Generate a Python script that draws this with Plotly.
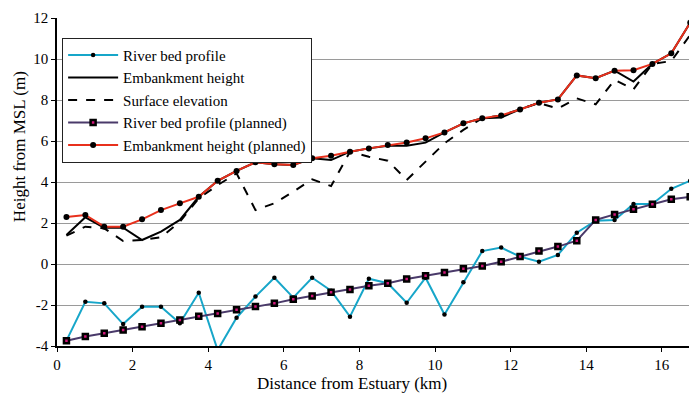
import plotly.graph_objects as go

distance_km = [0.25, 0.75, 1.25, 1.75, 2.25, 2.75, 3.25, 3.75, 4.25, 4.75, 5.25, 5.75,
               6.25, 6.75, 7.25, 7.75, 8.25, 8.75, 9.25, 9.75, 10.25, 10.75, 11.25, 11.75,
               12.25, 12.75, 13.25, 13.75, 14.25, 14.75, 15.25, 15.75, 16.25, 16.75]

river_bed = [-3.74, -1.84, -1.92, -2.93, -2.08, -2.08, -2.89, -1.40, -4.20, -2.62, -1.59, -0.67,
             -1.64, -0.67, -1.30, -2.57, -0.72, -0.94, -1.89, -0.67, -2.46, -0.89, 0.63, 0.80,
             0.36, 0.11, 0.44, 1.53, 2.11, 2.15, 2.93, 2.93, 3.67, 4.06]

embankment = [1.41, 2.28, 1.77, 1.77, 1.17, 1.58, 2.15, 3.28, 4.06, 4.54, 4.96, 4.86,
              4.83, 5.16, 5.07, 5.48, 5.64, 5.77, 5.77, 5.92, 6.42, 6.86, 7.11, 7.15,
              7.54, 7.87, 8.03, 9.20, 9.06, 9.43, 8.90, 9.76, 10.28, 11.77]

surface = [1.38, 1.82, 1.74, 1.12, 1.17, 1.30, 2.06, 3.20, 3.85, 4.42, 2.63, 2.96,
           3.53, 4.13, 3.80, 5.48, 5.23, 5.04, 4.10, 4.99, 5.89, 6.54, 7.11, 7.25,
           7.54, 7.85, 7.59, 8.08, 7.79, 8.98, 8.52, 9.76, 9.90, 11.17]

river_bed_planned = [-3.74, -3.54, -3.38, -3.22, -3.06, -2.89, -2.73, -2.55, -2.41, -2.23, -2.07, -1.92,
                     -1.72, -1.56, -1.38, -1.24, -1.06, -0.94, -0.73, -0.57, -0.41, -0.23, -0.10, 0.11,
                     0.36, 0.63, 0.85, 1.14, 2.15, 2.42, 2.67, 2.91, 3.16, 3.28]

embankment_planned = [2.29, 2.39, 1.82, 1.82, 2.18, 2.63, 2.96, 3.28, 4.06, 4.54, 4.96, 4.86,
                      4.83, 5.16, 5.28, 5.48, 5.64, 5.80, 5.93, 6.13, 6.42, 6.86, 7.11, 7.25,
                      7.54, 7.87, 8.03, 9.20, 9.06, 9.43, 9.45, 9.76, 10.28, 11.77]

y_ticks = [-4, -2, 0, 2, 4, 6, 8, 10, 12]
x_ticks = [0, 2, 4, 6, 8, 10, 12, 14, 16]

x_title = "Distance from Estuary (km)"
y_title = "Height from MSL (m)"

FONT = "Liberation Serif, Times New Roman, serif"

fig = go.Figure()

fig.add_trace(go.Scatter(
    x=distance_km, y=river_bed, name="River bed profile", mode="lines+markers",
    line=dict(color="#17a6c9", width=2),
    marker=dict(color="black", size=4.5, symbol="circle"),
    cliponaxis=False))

fig.add_trace(go.Scatter(
    x=distance_km, y=embankment, name="Embankment height", mode="lines",
    line=dict(color="black", width=2)))

fig.add_trace(go.Scatter(
    x=distance_km, y=surface, name="Surface elevation", mode="lines",
    line=dict(color="black", width=2, dash="dash")))

fig.add_trace(go.Scatter(
    x=distance_km, y=river_bed_planned, name="River bed profile (planned)", mode="lines+markers",
    line=dict(color="#4a3a6a", width=2),
    marker=dict(color="#d0157a", size=5, symbol="square", line=dict(color="black", width=2.5))))

fig.add_trace(go.Scatter(
    x=distance_km, y=embankment_planned, name="Embankment height (planned)", mode="lines+markers",
    line=dict(color="#e8301c", width=2),
    marker=dict(color="black", size=6, symbol="circle")))

# The page body adds an 8px margin, so the figure is 8px smaller than the window.
fig.update_layout(
    width=689, height=390,
    margin=dict(l=49, r=0, t=10, b=52),
    paper_bgcolor="white", plot_bgcolor="white",
    font=dict(family=FONT, color="black", size=14),
    showlegend=True,
    legend=dict(
        x=0.008, y=0.94, xanchor="left", yanchor="top",
        bgcolor="white", bordercolor="#222", borderwidth=1,
        font=dict(family=FONT, size=15, color="black"),
        tracegroupgap=0, itemwidth=50,
    ),
    xaxis=dict(
        range=[0, 16.93], tickvals=x_ticks, ticktext=[str(v) for v in x_ticks],
        showgrid=False, zeroline=False,
        showline=True, linecolor="black", linewidth=1.5,
        ticks="outside", ticklen=4, tickcolor="black",
        tickfont=dict(family=FONT, size=15),
    ),
    yaxis=dict(
        range=[-4, 12], tickvals=y_ticks, ticktext=[str(v) for v in y_ticks],
        showgrid=True, gridcolor="#9a9a9a", gridwidth=1.2, zeroline=False,
        showline=True, linecolor="black", linewidth=1.5,
        ticks="outside", ticklen=4, tickcolor="black",
        tickfont=dict(family=FONT, size=15),
    ),
    annotations=[
        dict(text=x_title, xref="paper", yref="paper", x=0.461, y=-0.113,
             xanchor="center", yanchor="middle", showarrow=False,
             font=dict(family=FONT, size=17, color="black")),
        dict(text=y_title, xref="paper", yref="paper", x=-0.0585, y=0.608,
             xanchor="center", yanchor="middle", textangle=-90, showarrow=False,
             font=dict(family=FONT, size=17, color="black")),
    ],
)

fig.write_html("out.html")
